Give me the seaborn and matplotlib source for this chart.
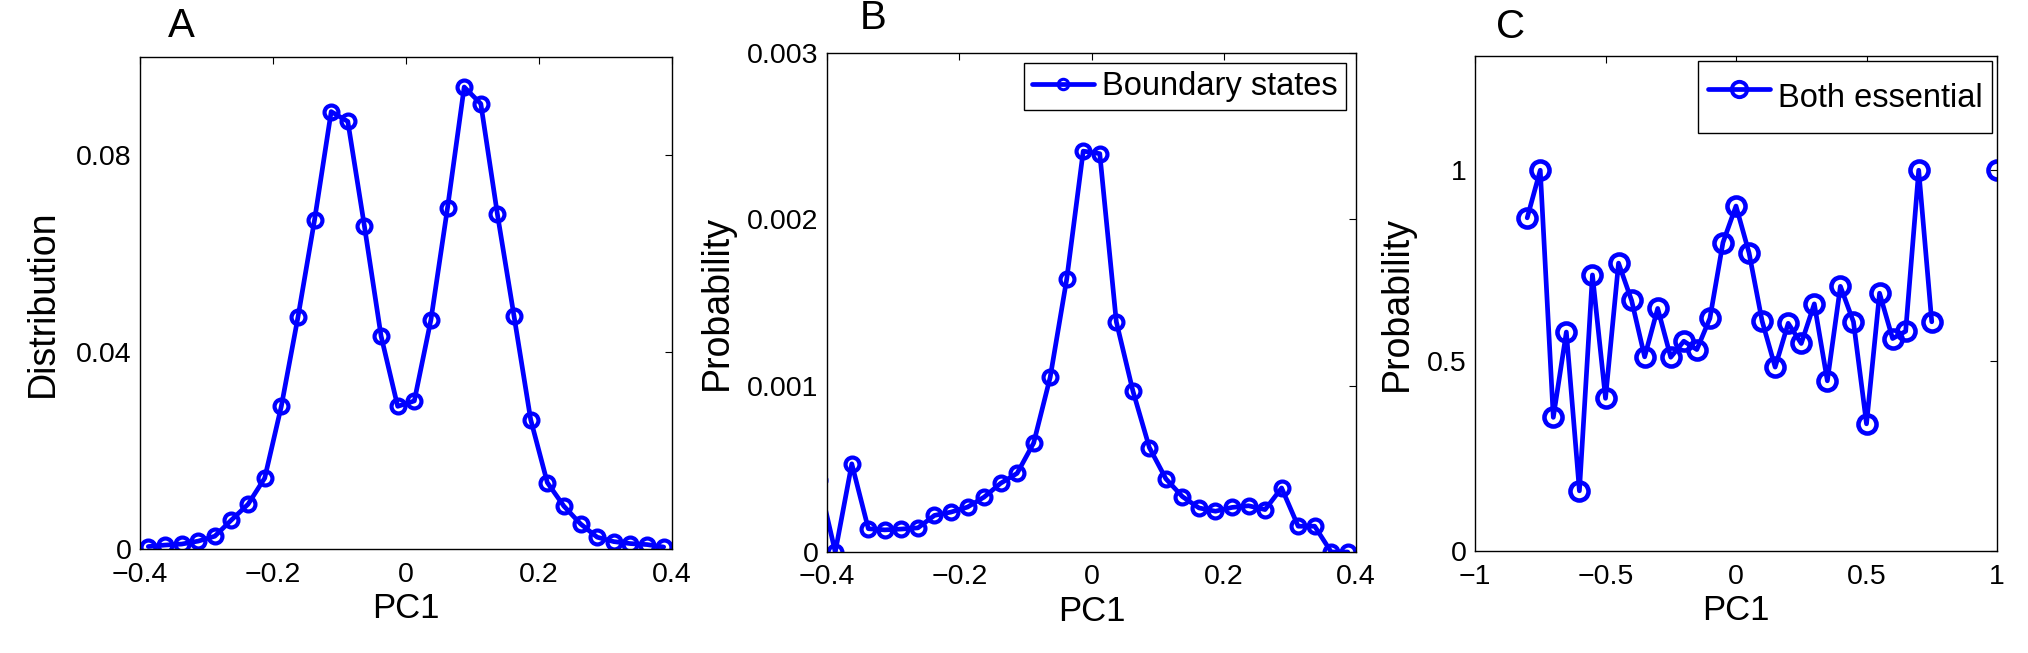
import numpy as np
import pandas as pd
import seaborn as sns
import matplotlib
matplotlib.use("Agg")
from matplotlib import pyplot as plt

# panel A: distribution along PC1
a_pc1 = [-0.3875, -0.3625, -0.3375, -0.3125, -0.2875, -0.2625, -0.2375, -0.2125,
         -0.1875, -0.1625, -0.1375, -0.1125, -0.0875, -0.0625, -0.0375, -0.0125,
         0.0125, 0.0375, 0.0625, 0.0875, 0.1125, 0.1375, 0.1625, 0.1875,
         0.2125, 0.2375, 0.2625, 0.2875, 0.3125, 0.3375, 0.3625, 0.3875]
a_dist = [0.0005, 0.0008, 0.0010, 0.0016, 0.0026, 0.0059, 0.0091, 0.0144,
          0.0290, 0.0471, 0.0669, 0.0889, 0.0869, 0.0656, 0.0433, 0.0290,
          0.0301, 0.0466, 0.0694, 0.0939, 0.0905, 0.0680, 0.0473, 0.0263,
          0.0135, 0.0087, 0.0051, 0.0024, 0.0015, 0.0011, 0.0009, 0.0004]

# panel B: boundary states
b_pc1 = [-0.4125, -0.3875, -0.3625, -0.3375, -0.3125, -0.2875, -0.2625, -0.2375,
         -0.2125, -0.1875, -0.1625, -0.1375, -0.1125, -0.0875, -0.0625, -0.0375,
         -0.0125, 0.0125, 0.0375, 0.0625, 0.0875, 0.1125, 0.1375, 0.1625,
         0.1875, 0.2125, 0.2375, 0.2625, 0.2875, 0.3125, 0.3375, 0.3625, 0.3875]
b_prob = [0.00043, 0.0, 0.00053, 0.00014, 0.000133, 0.000138, 0.000145, 0.00022,
          0.00024, 0.00027, 0.00033, 0.000413, 0.000473, 0.000655, 0.00105, 0.00164,
          0.00241, 0.002395, 0.001385, 0.00097, 0.000628, 0.00044, 0.000333, 0.000265,
          0.000245, 0.000268, 0.000278, 0.000255, 0.000385, 0.000155, 0.000155, 0.0, 0.0]

# panel C: both essential (gaps where no data)
c_pc1 = [-0.80, -0.75, -0.70, -0.65, -0.60, -0.55, -0.50, -0.45, -0.40, -0.35,
         -0.30, -0.25, -0.20, -0.15, -0.10, -0.05, 0.00, 0.05, 0.10, 0.15,
         0.20, 0.25, 0.30, 0.35, 0.40, 0.45, 0.50, 0.55, 0.60, 0.65,
         0.70, 0.75, 0.80, 0.85, 0.90, 0.95, 1.00]
c_prob = [0.875, 1.0, 0.351, 0.575, 0.158, 0.725, 0.401, 0.756, 0.658, 0.510,
          0.637, 0.509, 0.551, 0.529, 0.611, 0.810, 0.906, 0.783, 0.604, 0.483,
          0.598, 0.545, 0.649, 0.447, 0.695, 0.602, 0.334, 0.677, 0.558, 0.577,
          1.0, 0.602, np.nan, np.nan, np.nan, np.nan, 1.0]

sns.set_style("white")
plt.rcParams['font.family'] = ['Liberation Sans', 'DejaVu Sans']
plt.rcParams.update({'text.color': 'black', 'axes.labelcolor': 'black',
                     'xtick.color': 'black', 'ytick.color': 'black',
                     'axes.edgecolor': 'black'})

W, H = 2028, 653
fig = plt.figure(figsize=(W / 100, H / 100), dpi=100)

def px_axes(l, t, r, b):
    return fig.add_axes([l / W, 1 - b / H, (r - l) / W, (b - t) / H])

axA = px_axes(140, 57, 672, 549)
axB = px_axes(827, 53, 1356, 552)
axC = px_axes(1475, 56, 1997, 551)

blue = '#0000FF'
line_kw = dict(color=blue, linewidth=3.4, marker='o', markerfacecolor='none',
               markeredgecolor=blue)

sns.lineplot(x=a_pc1, y=a_dist, ax=axA, markersize=10, markeredgewidth=3, **line_kw)
sns.lineplot(x=b_pc1, y=b_prob, ax=axB, markersize=10, markeredgewidth=3,
             label='Boundary states', **line_kw)

dfc = pd.DataFrame({'pc1': c_pc1, 'prob': c_prob})
dfc['seg'] = dfc['prob'].isna().cumsum()
dfc = dfc.dropna()
sns.lineplot(data=dfc, x='pc1', y='prob', units='seg', estimator=None, ax=axC,
             markersize=13, markeredgewidth=3.3, label='Both essential', **line_kw)

axA.set_xlim(-0.4, 0.4)
axA.set_ylim(0, 0.1)
axA.set_xticks([-0.4, -0.2, 0, 0.2, 0.4])
axA.set_xticklabels(['\u22120.4', '\u22120.2', '0', '0.2', '0.4'])
axA.set_yticks([0, 0.04, 0.08])
axA.set_yticklabels(['0', '0.04', '0.08'])
axA.set_ylabel('Distribution', fontsize=27, labelpad=11)

axB.set_xlim(-0.4, 0.4)
axB.set_ylim(0, 0.003)
axB.set_xticks([-0.4, -0.2, 0, 0.2, 0.4])
axB.set_xticklabels(['\u22120.4', '\u22120.2', '0', '0.2', '0.4'])
axB.set_yticks([0, 0.001, 0.002, 0.003])
axB.set_yticklabels(['0', '0.001', '0.002', '0.003'])
axB.set_ylabel('Probability', fontsize=27, labelpad=9)

axC.set_xlim(-1, 1)
axC.set_ylim(0, 1.3)
axC.set_xticks([-1, -0.5, 0, 0.5, 1])
axC.set_xticklabels(['\u22121', '\u22120.5', '0', '0.5', '1'])
axC.set_yticks([0, 0.5, 1])
axC.set_yticklabels(['0', '0.5', '1'])
axC.set_ylabel('Probability', fontsize=27, labelpad=9)

for ax in (axA, axB, axC):
    ax.set_xlabel('PC1', fontsize=25, labelpad=3)
    ax.tick_params(direction='in', top=True, right=True, length=5, width=0.8,
                   labelsize=20.5)
    ax.tick_params(axis='x', pad=9)
    ax.tick_params(axis='y', pad=6)
    for sp in ax.spines.values():
        sp.set_linewidth(1.0)
        sp.set_color('black')

legB = axB.legend(loc='upper right', fontsize=23.5, frameon=True, fancybox=False,
                  framealpha=1, edgecolor='black', borderpad=0.25, borderaxespad=0.3,
                  handlelength=1.9, handletextpad=0.25, markerscale=0.75)
legB.get_frame().set_linewidth(1.0)
for h in legB.legend_handles:
    h.set_markeredgewidth(2.2)

hC, lC = axC.get_legend_handles_labels()
legC = axC.legend(hC[:1], lC[:1], loc='upper right', fontsize=23.5, frameon=True,
                  fancybox=False, framealpha=1, edgecolor='black', borderpad=0.3,
                  borderaxespad=0.15, handlelength=1.9, handletextpad=0.25,
                  handleheight=2.1, markerscale=0.85)
legC.get_frame().set_linewidth(1.0)
for h in legC.legend_handles:
    h.set_markeredgewidth(2.8)

# panel letters
for letter, x, y in (('A', 181, 26), ('B', 873, 18), ('C', 1511, 27)):
    fig.text(x / W, 1 - y / H, letter, fontsize=29, ha='center', va='center')

fig.savefig('out.png', dpi=100)
